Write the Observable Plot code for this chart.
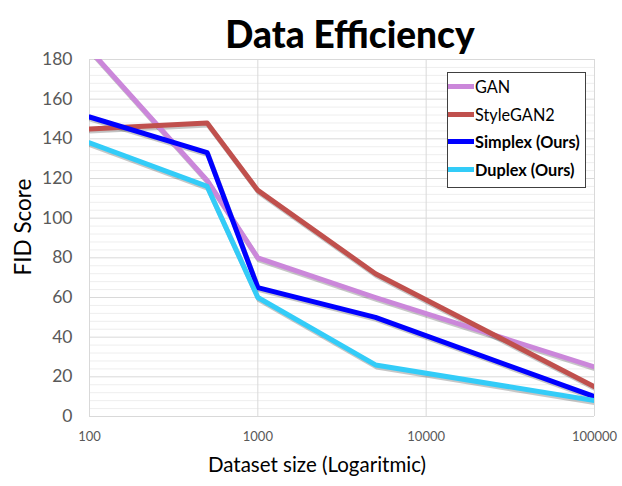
<!DOCTYPE html>
<html>
<head>
<meta charset="utf-8">
<script src="https://cdn.jsdelivr.net/npm/d3@7"></script>
<script src="https://cdn.jsdelivr.net/npm/@observablehq/plot@0.6"></script>
<style>
  html, body { margin: 0; padding: 0; background: #fff; overflow: hidden; }
  #wrap { position: relative; width: 622px; height: 486px; background: #fff; font-family: Lato, "Open Sans", sans-serif; }
  #title { width: 622px; height: 47px; box-sizing: border-box; padding-left: 78px; padding-top: 11px; line-height: 47px; text-align: center; font: 900 37px Lato, sans-serif; color: #000; overflow: visible; white-space: nowrap; }
  #legend { position: absolute; left: 447px; top: 72px; width: 137px; height: 114px; border: 1px solid #404040; background: #fff; }
  .row { display: flex; align-items: center; height: 27.5px; font-size: 16.3px; color: #000; white-space: nowrap; }
  .sw { width: 26px; height: 5px; margin-right: 1px; flex: none; }
</style>
</head>
<body>
<div id="wrap">
  <div id="title">Data Efficiency</div>
  <div id="chart"></div>
  <div id="legend"></div>
</div>
<script>
// ---- data ----
const sizes = [100, 500, 1000, 5000, 100000];
const seriesNames = ["GAN", "StyleGAN2", "Simplex (Ours)", "Duplex (Ours)"];
const ganFID = [185, 119, 80, 60, 25];
const styleGAN2FID = [145, 148, 114, 72, 15];
const simplexFID = [151, 133, 65, 50, 10];
const duplexFID = [138, 116, 60, 26, 8];
const seriesColors = ["#CB87DA", "#C0504D", "#0000FF", "#33CCF8"];
const boldSeries = [false, false, true, true];
const xTicks = [100, 1000, 10000, 100000];
const yTicks = [0, 20, 40, 60, 80, 100, 120, 140, 160, 180];
const yMinorTicks = d3.range(0, 181, 4).filter(v => v % 20 !== 0);

const values = [ganFID, styleGAN2FID, simplexFID, duplexFID];
const rows = [];
seriesNames.forEach((s, i) => sizes.forEach((x, j) => rows.push({x, y: values[i][j], s})));

const chart = Plot.plot({
  width: 622,
  height: 439,
  marginTop: 12,
  marginBottom: 70,
  marginLeft: 89,
  marginRight: 28,
  style: {fontFamily: "Lato, sans-serif", background: "#fff", overflow: "visible"},
  x: {type: "log", domain: [100, 100000], axis: null},
  y: {domain: [0, 180], axis: null},
  color: {domain: seriesNames, range: seriesColors},
  marks: [
    Plot.ruleY(yMinorTicks, {stroke: "#eeeeee", strokeWidth: 1}),
    Plot.ruleY(yTicks, {stroke: "#d9d9d9", strokeWidth: 1}),
    Plot.ruleX(xTicks, {stroke: "#d9d9d9", strokeWidth: 1}),
    Plot.axisY(yTicks, {tickSize: 0, tickPadding: 17, fontSize: 17.5, fill: "#595959", label: null}),
    Plot.axisX(xTicks, {tickSize: 0, tickPadding: 15, fontSize: 13, fill: "#595959", label: null, tickFormat: d => String(d)}),
    Plot.line(rows, {x: "x", y: "y", z: "s", stroke: "#000", strokeOpacity: 0.22, strokeWidth: 5, dx: 1, dy: 2, clip: true}),
    Plot.line(rows, {x: "x", y: "y", z: "s", stroke: "s", strokeWidth: 5, clip: true}),
    Plot.text(["Dataset size (Logaritmic)"], {frameAnchor: "bottom", dx: -25, dy: 49, fontSize: 20.5, fill: "#000", lineAnchor: "middle"}),
    Plot.text(["FID Score"], {frameAnchor: "left", textAnchor: "middle", rotate: -90, dx: -66, dy: -11, fontSize: 22.5, fill: "#000", lineAnchor: "middle"})
  ]
});
document.getElementById("chart").appendChild(chart);

const legend = document.getElementById("legend");
seriesNames.forEach((s, i) => {
  const row = document.createElement("div");
  row.className = "row";
  const sw = document.createElement("div");
  sw.className = "sw";
  sw.style.background = seriesColors[i];
  const label = document.createElement("span");
  label.textContent = s;
  if (boldSeries[i]) label.style.fontWeight = "bold";
  row.appendChild(sw);
  row.appendChild(label);
  legend.appendChild(row);
});
</script>
</body>
</html>
